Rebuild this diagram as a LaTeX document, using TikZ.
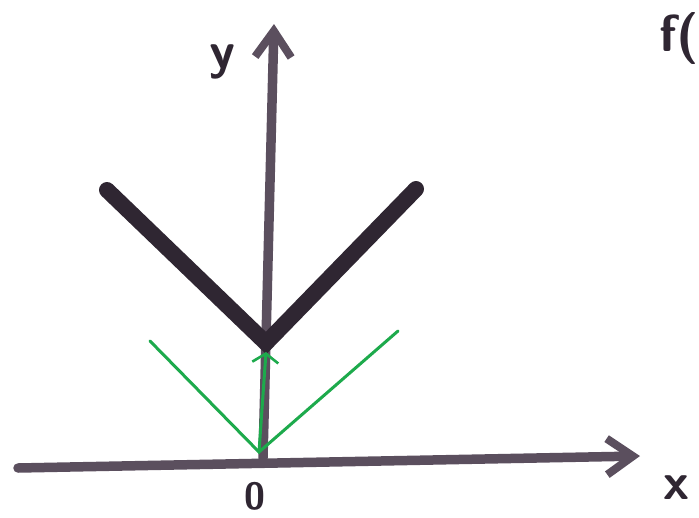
\documentclass[tikz,border=0pt]{standalone}
\usepackage{xcolor}
\usepackage{tikz}
\usetikzlibrary{arrows.meta}
\definecolor{Board}{HTML}{FFFFFF}
\definecolor{Ink}{HTML}{5B4F5E}
\definecolor{Marker}{HTML}{2F2632}
\definecolor{Mint}{HTML}{1DAA4C}

\begin{document}
\begin{tikzpicture}[x=1pt,y=-1pt,
  axis/.style={draw=Ink,line width=9.5pt,line cap=round,-{Straight Barb[length=26pt,width=36pt,line width=8pt]}},
  vline/.style={draw=Marker,line width=16pt,line cap=round},
  greenline/.style={draw=Mint,line width=3pt,line cap=round},
  handtext/.style={text=Marker,font=\sffamily\bfseries\fontsize{52}{52}\selectfont,inner sep=0pt}
]
\useasboundingbox[fill=Board] (0,0) rectangle (699,517);
% axes
\coordinate (xl) at (18,468);
\coordinate (xr) at (640,456);
\coordinate (yb) at (263,458);
\coordinate (yt) at (274,24);
\draw[axis] (xl)--(xr);
\draw[axis] (yb)--(yt);
\node[handtext] (ylab) at (222,62) {y};
\node[handtext] (xlab) at (676,488) {x};
\node[handtext,font=\sffamily\bfseries\fontsize{38}{38}\selectfont] (orig) at (255,496) {0};
\node[handtext,anchor=north east] (flab) at (699,12) {f(};
% black V
\coordinate (vl) at (107,190);
\coordinate (vo) at (266,343);
\coordinate (vr) at (416,189);
\draw[vline] (vl)--(vo)--(vr);
% green V
\coordinate (gl) at (150,341);
\coordinate (go) at (259,452);
\coordinate (gr) at (398,331);
\draw[greenline] (gl)--(go)--(gr);
\draw[greenline,-{Straight Barb[length=9pt,width=26pt,line width=2.6pt]}] (go)--(266,352);
\end{tikzpicture}
\end{document}
